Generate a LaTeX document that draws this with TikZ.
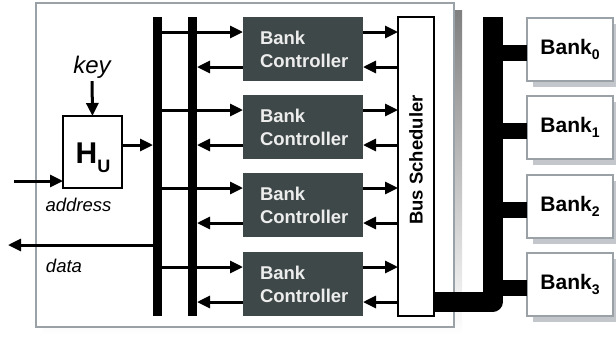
\documentclass[tikz,border=0pt]{standalone}
\usepackage{fontspec}
\setmainfont{Liberation Sans}
\usetikzlibrary{arrows.meta,shadows}
\definecolor{ctrl}{HTML}{3F4848}
\definecolor{framec}{HTML}{9AA2A8}
\definecolor{shade}{HTML}{C3C7CC}
\definecolor{ctxt}{HTML}{EDEDED}
\begin{document}
\begin{tikzpicture}[x=1pt,y=-1pt,
  arr/.style={line width=3pt,-{Triangle[length=13pt,width=12pt]}},
  ctrlbox/.style={fill=ctrl,text=ctxt,minimum width=120pt,minimum height=64pt,
    text width=86pt,inner xsep=17pt,inner ysep=0pt,outer sep=0pt,align=left,
    font=\fontsize{18.5}{23}\selectfont\bfseries},
  busbar/.style={fill=black,minimum width=9pt,minimum height=299pt,inner sep=0pt,outer sep=0pt},
  bankbox/.style={draw=framec,line width=2pt,fill=white,minimum width=86pt,minimum height=63pt,
    inner sep=0pt,outer sep=0pt,font=\fontsize{21}{24}\selectfont\bfseries,
    drop shadow={shadow xshift=6pt,shadow yshift=-6pt,fill=shade,opacity=1}},
  lbl/.style={font=\fontsize{18.5}{22}\selectfont\itshape,inner sep=0pt,anchor=base},
  bigbus/.style={line width=20pt,line join=round},
  branch/.style={line width=16pt}
]
\useasboundingbox (0,0) rectangle (616,338);
% outer frame
\fill[shade] (43,10) rectangle (462,335);
\draw[framec,line width=2pt,fill=white] (36,3) rectangle (454,327);

% buses
\node[busbar] (bus1) at (157.5,166.5) {};
\node[busbar] (bus2) at (192.5,166.5) {};

% scheduler
\node[draw=black,line width=2pt,fill=white,minimum width=36pt,minimum height=299pt,inner sep=0pt,outer sep=0pt] (sched) at (416,166.5) {};
\node[rotate=90,font=\fontsize{18.5}{22}\selectfont\bfseries,inner sep=0pt] (schedtxt) at (416,160) {Bus Scheduler};

% controllers
\node[ctrlbox] (c1) at (303,49) {Bank\\Controller};
\node[ctrlbox] (c2) at (303,127) {Bank\\Controller};
\node[ctrlbox] (c3) at (303,205) {Bank\\Controller};
\node[ctrlbox] (c4) at (303,284) {Bank\\Controller};

\foreach \c in {c1,c2,c3,c4}{
  \coordinate (\c in) at ([yshift=17pt]\c.west);
  \coordinate (\c out) at ([yshift=-18pt]\c.west);
  \draw[arr] (bus1.east |- \c in) -- (\c in);
  \draw[arr] (\c out) -- (bus2.east |- \c out);
  \draw[arr] (\c.east |- \c in) -- (sched.west |- \c in);
  \draw[arr] (sched.west |- \c out) -- (\c.east |- \c out);
}

% hash unit
\node[draw=black,line width=1.5pt,fill=white,minimum width=59pt,minimum height=72pt,inner sep=0pt,outer sep=0pt] (hu) at (92.5,152) {};
\node[anchor=base,inner sep=0pt,font=\fontsize{30}{30}\selectfont\bfseries] (hutxt) at (93,163) {H\raisebox{-9pt}{\fontsize{18}{18}\selectfont U}};
\node[lbl,font=\fontsize{24}{26}\selectfont\itshape] (key) at (92,73) {key};
\draw[arr,shorten <=3pt] (key.south) -- (hu.north);
\coordinate (ain) at (14,181);
\draw[arr] (ain) -- (hu.west |- ain);
\coordinate (hux) at ([yshift=7pt]hu.east);
\draw[arr] (hux) -- (bus1.west |- hux);
\coordinate (dout) at (8,245);
\draw[arr] (bus1.west |- dout) -- (dout);
\node[lbl] (addr) at (78.5,211) {address};
\node[lbl] (data) at (64,272) {data};

% banks
\node[bankbox] (b0) at (570,49) {Bank\raisebox{-5pt}{\fontsize{14}{14}\selectfont 0}};
\node[bankbox] (b1) at (570,127) {Bank\raisebox{-5pt}{\fontsize{14}{14}\selectfont 1}};
\node[bankbox] (b2) at (570,206) {Bank\raisebox{-5pt}{\fontsize{14}{14}\selectfont 2}};
\node[bankbox] (b3) at (570,284) {Bank\raisebox{-5pt}{\fontsize{14}{14}\selectfont 3}};

% memory bus
\coordinate (btop) at (492.5,17);
\coordinate (bj) at (492.5,302);
\draw[bigbus] (sched.east |- bj) -- (bj) -- (btop);
\foreach \b in {b0,b1,b2,b3}{
  \coordinate (\b j) at ([yshift=-4pt]\b.west);
  \draw[branch] (btop |- \b j) -- (\b j);
}
\end{tikzpicture}
\end{document}
